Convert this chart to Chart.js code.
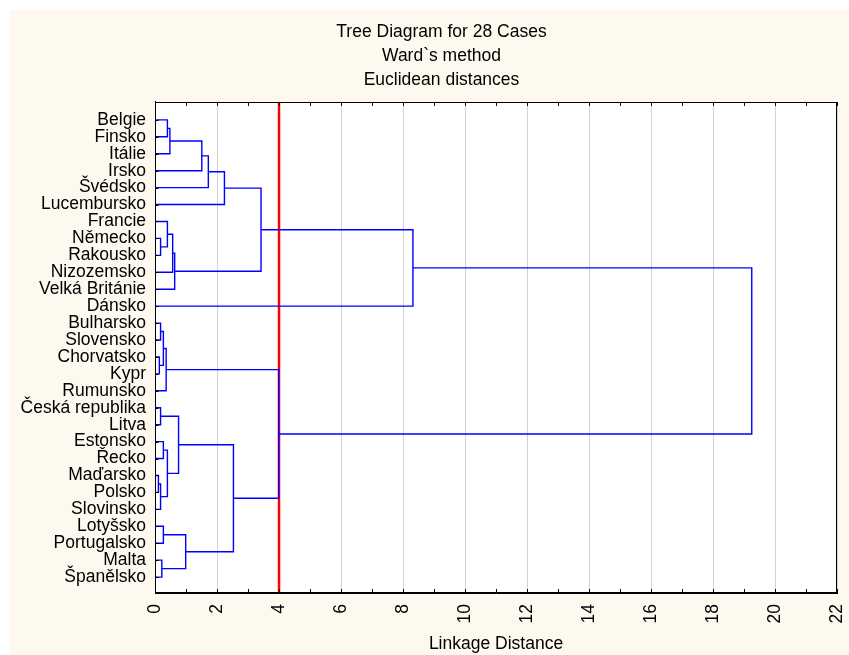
<!DOCTYPE html>
<html>
<head>
<meta charset="utf-8">
<script src="https://cdn.jsdelivr.net/npm/chart.js@4.4.1/dist/chart.umd.min.js"></script>
<style>
  html, body { margin: 0; padding: 0; background: #ffffff; }
  canvas { display: block; }
</style>
</head>
<body>
<canvas id="c" width="849" height="655"></canvas>
<script>
// ---- data ----
const caseLabels = ['Belgie','Finsko','Itálie','Irsko','Švédsko','Lucembursko','Francie','Německo','Rakousko','Nizozemsko','Velká Británie','Dánsko','Bulharsko','Slovensko','Chorvatsko','Kypr','Rumunsko','Česká republika','Litva','Estonsko','Řecko','Maďarsko','Polsko','Slovinsko','Lotyšsko','Portugalsko','Malta','Španělsko'];
// merge steps: child A, child B (0..27 = cases, 28+ = earlier clusters), linkage distance
const linkA = [0, 28, 29, 30, 31, 7, 6, 34, 35, 32, 37, 12, 14, 39, 41, 17, 19, 21, 45, 44, 43, 24, 26, 49, 48, 42, 38];
const linkB = [1, 2, 3, 4, 5, 8, 33, 9, 10, 36, 11, 13, 15, 40, 16, 18, 20, 22, 23, 46, 47, 25, 27, 50, 51, 52, 53];
const linkHeight = [0.40, 0.48, 1.51, 1.72, 2.24, 0.18, 0.40, 0.57, 0.635, 3.42, 8.32, 0.18, 0.14, 0.27, 0.36, 0.18, 0.27, 0.11, 0.18, 0.40, 0.76, 0.27, 0.22, 0.99, 2.53, 3.99, 19.25];
const cutDistance = 4;
const titleLines = ['Tree Diagram for 28 Cases', 'Ward`s method', 'Euclidean distances'];
const xTitle = 'Linkage Distance';

// ---- build dendrogram line datasets ----
const n = caseLabels.length;
const nodeY = [];
const posY = c => c < n ? c : nodeY[c - n];
const posX = c => c < n ? 0 : linkHeight[c - n];
const datasets = [];
for (let i = 0; i < linkA.length; i++) {
  const a = linkA[i], b = linkB[i], d = linkHeight[i];
  nodeY.push((posY(a) + posY(b)) / 2);
  datasets.push({
    data: [{x: posX(a), y: posY(a)}, {x: d, y: posY(a)}, {x: d, y: posY(b)}, {x: posX(b), y: posY(b)}],
    borderColor: '#0000ff', borderWidth: 1.4, showLine: true, pointRadius: 0, fill: false, tension: 0
  });
}
const yMin = -1.06, yMax = 27.94;
datasets.push({
  data: [{x: cutDistance, y: yMin}, {x: cutDistance, y: yMax}],
  borderColor: '#ff0000', borderWidth: 2.5, showLine: true, pointRadius: 0, fill: false
});

const FONT = '"Liberation Sans", Arial, sans-serif';

const decor = {
  id: 'decor',
  afterLayout(chart) {
    // centre the three-line title as in the reference
    const t = chart.titleBlock;
    if (t) { t.left += 18; t.right += 18; }
  },
  beforeDraw(chart) {
    const ctx = chart.ctx, a = chart.chartArea;
    ctx.save();
    ctx.fillStyle = '#ffffff';
    ctx.fillRect(0, 0, chart.width, chart.height);
    ctx.fillStyle = '#fdf9ef';
    ctx.fillRect(10, 10, chart.width - 10, chart.height - 10);
    ctx.fillStyle = '#ffffff';
    ctx.fillRect(a.left, a.top, a.right - a.left, a.bottom - a.top);
    ctx.restore();
  },
  afterDraw(chart) {
    const ctx = chart.ctx, a = chart.chartArea;
    const xs = chart.scales.x, ys = chart.scales.y;
    ctx.save();
    ctx.strokeStyle = '#000000';
    ctx.lineWidth = 1;
    ctx.strokeRect(Math.round(a.left) + 0.5, Math.round(a.top) + 0.5, Math.round(a.right - a.left) - 1, Math.round(a.bottom - a.top) - 1);
    ctx.beginPath();
    for (let v = xs.min; v <= xs.max; v += 1) {
      const px = Math.round(xs.getPixelForValue(v)) + 0.5;
      ctx.moveTo(px, a.top); ctx.lineTo(px, a.top + 4);
      ctx.moveTo(px, a.bottom); ctx.lineTo(px, a.bottom - 4);
    }
    for (let i = 0; i < n; i++) {
      const py = Math.round(ys.getPixelForValue(i)) + 0.5;
      ctx.moveTo(a.left, py); ctx.lineTo(a.left + 3.5, py);
    }
    ctx.stroke();
    ctx.restore();
  }
};

new Chart(document.getElementById('c'), {
  type: 'scatter',
  data: { datasets },
  options: {
    responsive: false,
    devicePixelRatio: 1,
    animation: false,
    layout: { padding: { left: 10, top: 10, right: 12, bottom: 0 } },
    plugins: {
      legend: { display: false },
      tooltip: { enabled: false },
      title: {
        display: true,
        text: titleLines,
        color: '#000000',
        font: { family: FONT, size: 17.5, weight: 'normal', lineHeight: 1.37 },
        padding: { top: 10.5, bottom: 9.5 }
      }
    },
    scales: {
      x: {
        type: 'linear', position: 'bottom', min: 0, max: 22,
        afterFit(s) { s.height = 62; s.paddingRight = 0; s.paddingLeft = 0; },
        ticks: { stepSize: 2, minRotation: 90, maxRotation: 90, color: '#000000', padding: 11,
                 font: { family: FONT, size: 17.5 } },
        grid: { color: '#d3d3d3', lineWidth: 1, drawTicks: false },
        border: { display: true, color: '#000000' },
        title: { display: true, text: xTitle, color: '#000000', padding: { top: 0, bottom: 0 },
                 font: { family: FONT, size: 17.5 } }
      },
      y: {
        type: 'linear', reverse: true, min: yMin, max: yMax,
        afterFit(s) { s.width = 145; s.paddingTop = 0; s.paddingBottom = 0; },
        afterBuildTicks(s) { s.ticks = caseLabels.map((_, i) => ({ value: i })); },
        ticks: { autoSkip: false, color: '#000000', padding: 9,
                 font: { family: FONT, size: 17.5 },
                 callback: v => caseLabels[v] ?? '' },
        grid: { display: false, drawTicks: false },
        border: { display: true, color: '#000000' }
      }
    }
  },
  plugins: [decor]
});
</script>
</body>
</html>
